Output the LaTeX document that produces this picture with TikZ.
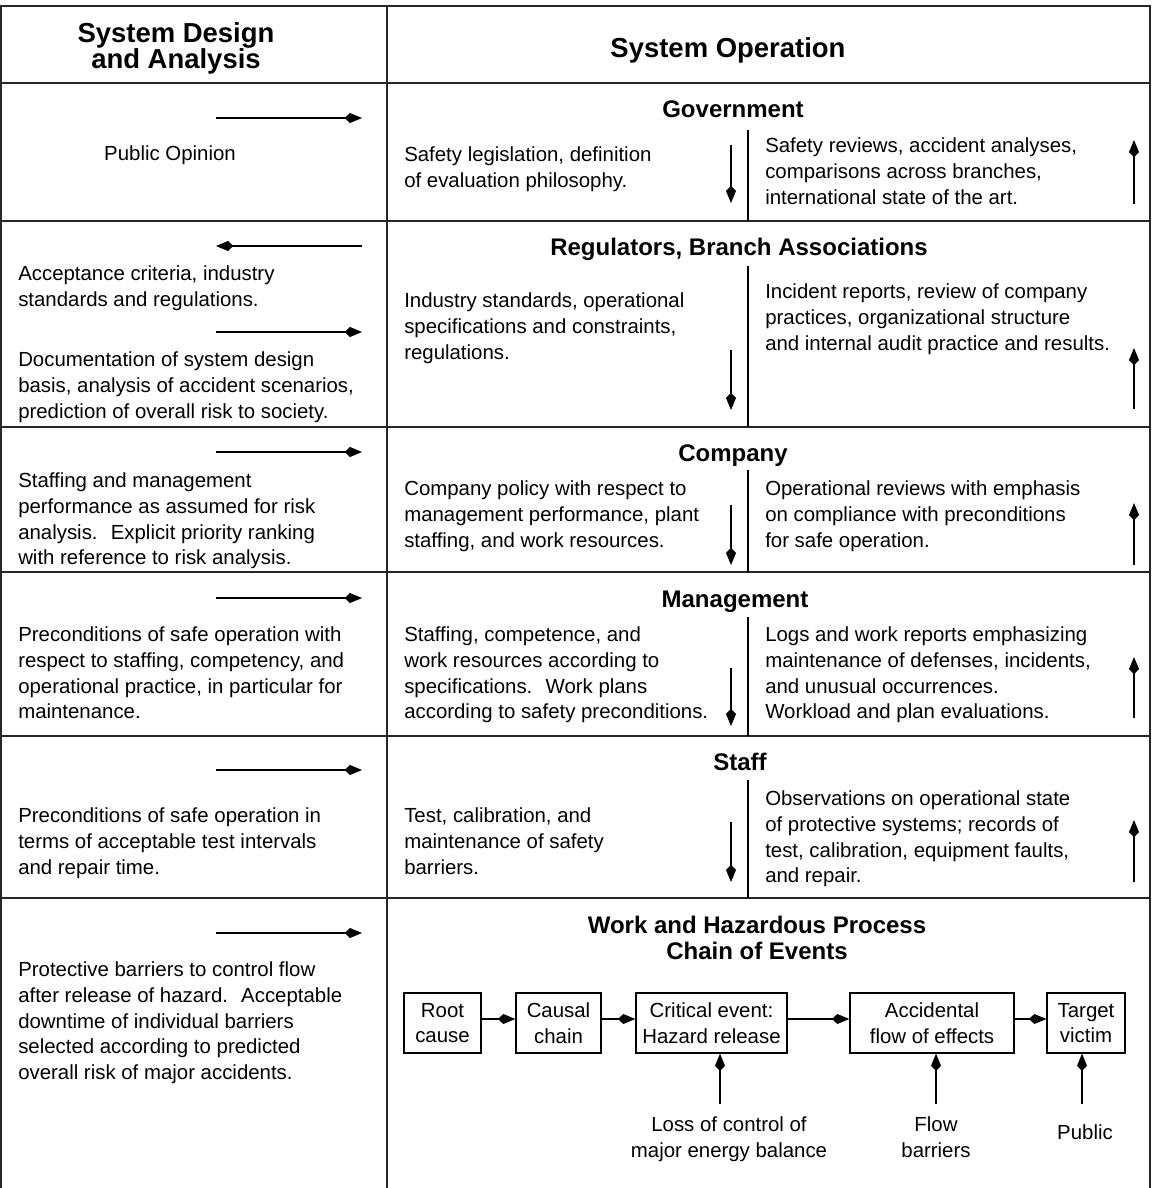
\documentclass[tikz,border=0pt]{standalone}
\usepackage{fontspec}
\setmainfont{Liberation Sans}
\usetikzlibrary{arrows.meta}

\newcommand{\bodyfont}{\fontsize{15.3}{19.3}\selectfont}

\tikzset{
  grid/.style={line width=1.3pt, black!85},
  divider/.style={line width=1pt},
  flow/.style={line width=0.9pt, -{Kite[length=13pt, width=7.5pt, inset=4pt]}},
  txt/.style={anchor=north west, inner sep=0pt, align=left, font=\bodyfont, yshift=-2.8pt},
  ctxt/.style={txt, anchor=north, align=center},
  rowhead/.style={anchor=base, inner sep=0pt, font=\fontsize{18}{19.5}\selectfont\bfseries},
  colhead/.style={inner sep=0pt, align=center, font=\fontsize{20.6}{19.5}\selectfont\bfseries},
  event/.style={draw, line width=1pt, inner sep=0pt, minimum height=45pt, align=center, font=\bodyfont}
}

\begin{document}
\begin{tikzpicture}[x=0.75pt,y=0.75pt,yscale=-1,xscale=1]
\useasboundingbox (0,0) rectangle (1152,1188);

%Frame and grid
\draw [grid] (1,1188) -- (1,6) -- (1150,6) -- (1150,1188) ;
\draw [grid] (387,6) -- (387,1188) ;
\draw [grid] (1,83) -- (1150,83) ;
\draw [grid] (1,221) -- (1150,221) ;
\draw [grid] (1,427) -- (1150,427) ;
\draw [grid] (1,572) -- (1150,572) ;
\draw [grid] (1,736) -- (1150,736) ;
\draw [grid] (1,898) -- (1150,898) ;
%Inner dividers
\draw [divider] (748,130) -- (748,221) ;
\draw [divider] (748,266) -- (748,427) ;
\draw [divider] (748,470) -- (748,572) ;
\draw [divider] (748,617) -- (748,736) ;
\draw [divider] (748,780) -- (748,898) ;

% Column headers
\node [colhead] (design) at (176,47.9) {System Design\\and Analysis};
\node [colhead, anchor=base] (operation) at (728,57.8) {System Operation};

% Row headers
\node [rowhead] (gov) at (733,117.6) {Government};
\node [rowhead] (reg) at (739,255.6) {Regulators, Branch Associations};
\node [rowhead] (comp) at (733,461.6) {Company};
\node [rowhead] (mgmt) at (735,607.6) {Management};
\node [rowhead] (staff) at (740,770.6) {Staff};
\node [colhead, font=\fontsize{18}{19.5}\selectfont\bfseries] (work) at (757,938) {Work and Hazardous Process\\Chain of Events};

% Left column texts
\node [anchor=base, inner sep=0pt, font=\bodyfont] (opinion) at (170,160.3) {Public Opinion};
\node [txt] (accept) at (18,262) {Acceptance criteria, industry\\standards and regulations.};
\node [txt] (docu) at (18,348) {Documentation of system design\\basis, analysis of accident scenarios,\\prediction of overall risk to society.};
\node [txt] (assumed) at (18,469) {Staffing and management\\performance as assumed for risk\\analysis.~ Explicit priority ranking\\with reference to risk analysis.};
\node [txt] (precond) at (18,623) {Preconditions of safe operation with\\respect to staffing, competency, and\\operational practice, in particular for\\maintenance.};
\node [txt] (testint) at (18,804) {Preconditions of safe operation in\\terms of acceptable test intervals\\and repair time.};
\node [txt] (protect) at (18,958) {Protective barriers to control flow\\after release of hazard.~ Acceptable\\downtime of individual barriers\\selected according to predicted\\overall risk of major accidents.};

% Middle column texts
\node [txt] (legis) at (404,143) {Safety legislation, definition\\of evaluation philosophy.};
\node [txt] (indstd) at (404,289) {Industry standards, operational\\specifications and constraints,\\regulations.};
\node [txt] (policy) at (404,477) {Company policy with respect to\\management performance, plant\\staffing, and work resources.};
\node [txt] (compet) at (404,623) {Staffing, competence, and\\work resources according to\\specifications.~ Work plans\\according to safety preconditions.};
\node [txt] (calib) at (404,804) {Test, calibration, and\\maintenance of safety\\barriers.};

% Right column texts
\node [txt] (reviews) at (765,134) {Safety reviews, accident analyses,\\comparisons across branches,\\international state of the art.};
\node [txt] (incident) at (765,280) {Incident reports, review of company\\practices, organizational structure\\and internal audit practice and results.};
\node [txt] (compli) at (765,477) {Operational reviews with emphasis\\on compliance with preconditions\\for safe operation.};
\node [txt] (logs) at (765,623) {Logs and work reports emphasizing\\maintenance of defenses, incidents,\\and unusual occurrences.\\Workload and plan evaluations.};
\node [txt] (observ) at (765,787) {Observations on operational state\\of protective systems; records of\\test, calibration, equipment faults,\\and repair.};

% Chain of events
\node [event, minimum width=57.75pt] (root) at (442.5,1023) {Root\\cause};
\node [event, minimum width=63.75pt] (causal) at (558.5,1023) {Causal\\chain};
\node [event, minimum width=113.25pt] (crit) at (711.5,1023) {Critical event:\\Hazard release};
\node [event, minimum width=123pt] (accid) at (932,1023) {Accidental\\flow of effects};
\node [event, minimum width=58.5pt] (target) at (1086,1023) {Target\\victim};

\node [ctxt] (loss) at (729,1113) {Loss of control of\\major energy balance};
\node [ctxt] (barrier) at (936,1113) {Flow\\barriers};
\node [anchor=base, inner sep=0pt, font=\bodyfont] (public) at (1085,1139) {Public};

\draw [flow] ([yshift=-3pt]root.east) -- ([yshift=-3pt]causal.west) ;
\draw [flow] ([yshift=-3pt]causal.east) -- ([yshift=-3pt]crit.west) ;
\draw [flow] ([yshift=-3pt]crit.east) -- ([yshift=-3pt]accid.west) ;
\draw [flow] ([yshift=-3pt]accid.east) -- ([yshift=-3pt]target.west) ;

\coordinate (lossfoot) at (720,1104);
\coordinate (barrierfoot) at (936,1104);
\coordinate (publicfoot) at (1082,1104);
\draw [flow] (lossfoot) -- (lossfoot |- crit.south) ;
\draw [flow] (barrierfoot) -- (barrierfoot |- accid.south) ;
\draw [flow] (publicfoot) -- (publicfoot |- target.south) ;

% Left column arrows
\coordinate (pubA) at (216,118); \coordinate (pubB) at (362,118);
\draw [flow] (pubA) -- (pubB) ;
\coordinate (accA) at (362,246); \coordinate (accB) at (216,246);
\draw [flow] (accA) -- (accB) ;
\coordinate (docA) at (216,332); \coordinate (docB) at (362,332);
\draw [flow] (docA) -- (docB) ;
\coordinate (asmA) at (216,452); \coordinate (asmB) at (362,452);
\draw [flow] (asmA) -- (asmB) ;
\coordinate (preA) at (216,598); \coordinate (preB) at (362,598);
\draw [flow] (preA) -- (preB) ;
\coordinate (tstA) at (216,770); \coordinate (tstB) at (362,770);
\draw [flow] (tstA) -- (tstB) ;
\coordinate (proA) at (216,933); \coordinate (proB) at (362,933);
\draw [flow] (proA) -- (proB) ;

% Downward arrows
\coordinate (legA) at (731,145); \coordinate (legB) at (731,203);
\draw [flow] (legA) -- (legB) ;
\coordinate (indA) at (731,350); \coordinate (indB) at (731,410);
\draw [flow] (indA) -- (indB) ;
\coordinate (polA) at (731,505); \coordinate (polB) at (731,565);
\draw [flow] (polA) -- (polB) ;
\coordinate (comA) at (731,668); \coordinate (comB) at (731,726);
\draw [flow] (comA) -- (comB) ;
\coordinate (calA) at (731,822); \coordinate (calB) at (731,882);
\draw [flow] (calA) -- (calB) ;

% Upward arrows
\coordinate (revA) at (1134,204); \coordinate (revB) at (1134,140);
\draw [flow] (revA) -- (revB) ;
\coordinate (incA) at (1134,409); \coordinate (incB) at (1134,348);
\draw [flow] (incA) -- (incB) ;
\coordinate (cplA) at (1134,565); \coordinate (cplB) at (1134,503);
\draw [flow] (cplA) -- (cplB) ;
\coordinate (logA) at (1134,718); \coordinate (logB) at (1134,657);
\draw [flow] (logA) -- (logB) ;
\coordinate (obsA) at (1134,882); \coordinate (obsB) at (1134,820);
\draw [flow] (obsA) -- (obsB) ;

\end{tikzpicture}
\end{document}
